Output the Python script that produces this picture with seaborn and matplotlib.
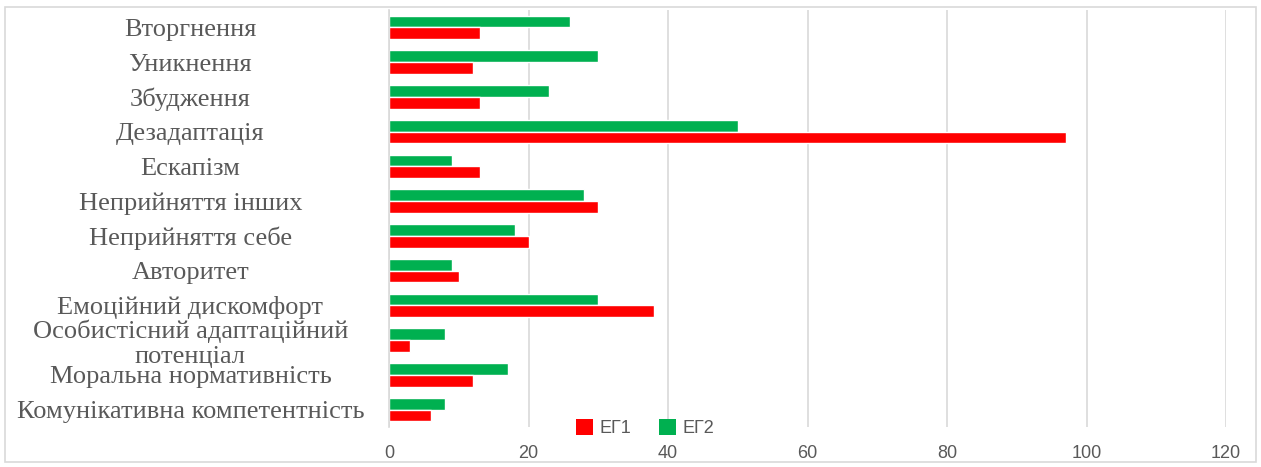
import matplotlib
matplotlib.use("Agg")
import matplotlib.pyplot as plt
import seaborn as sns
import pandas as pd
from matplotlib.patches import Patch, Rectangle

categories = [
    "Вторгнення",
    "Уникнення",
    "Збудження",
    "Дезадаптація",
    "Ескапізм",
    "Неприйняття інших",
    "Неприйняття себе",
    "Авторитет",
    "Емоційний дискомфорт",
    "Особистісний адаптаційний\nпотенціал",
    "Моральна нормативність",
    "Комунікативна компетентність",
]
eg1 = [13, 12, 13, 97, 13, 30, 20, 10, 38, 3, 12, 6]
eg2 = [26, 30, 23, 50, 9, 28, 18, 9, 30, 8, 17, 8]
series_names = ["ЕГ1", "ЕГ2"]
x_ticks = [0, 20, 40, 60, 80, 100, 120]

colors = {"ЕГ1": "#FF0000", "ЕГ2": "#00B050"}
text_gray = "#595959"

df = pd.DataFrame({
    "category": categories * 2,
    "value": eg1 + eg2,
    "group": ["ЕГ1"] * len(categories) + ["ЕГ2"] * len(categories),
})

sns.set_theme(style="white")
plt.rcParams["font.family"] = ["Liberation Sans", "DejaVu Sans"]

fig = plt.figure(figsize=(12.61, 4.67), dpi=100)
W, H = 1261, 467
ax = fig.add_axes([389 / W, 40 / H, (1226 - 389) / W, (427 - 10) / H])

sns.barplot(data=df, y="category", x="value", hue="group", orient="h",
            hue_order=["ЕГ2", "ЕГ1"], palette=colors, width=0.68,
            order=categories, ax=ax, legend=False, saturation=1)

ax.set_xlim(0, 120)
ax.set_ylim(len(categories) - 0.5, -0.5)
ax.set_xticks(x_ticks)
ax.set_xticklabels([str(t) for t in x_ticks], color=text_gray, fontsize=13)
ax.xaxis.grid(True, color="#D9D9D9", linewidth=1.2)
ax.set_axisbelow(True)
for s in ["top", "right", "bottom"]:
    ax.spines[s].set_visible(False)
ax.spines["left"].set_color("#D9D9D9")
ax.spines["left"].set_linewidth(1.2)
ax.set_xlabel("")
ax.set_ylabel("")
ax.tick_params(axis="x", length=0, pad=13)
ax.tick_params(axis="y", length=0, pad=143)
for lab in ax.get_yticklabels():
    lab.set_ha("center")
    lab.set_family(["Liberation Serif", "DejaVu Serif"])
    lab.set_fontsize(19)
    lab.set_color(text_gray)
    lab.set_linespacing(1.15)

handles = [Patch(facecolor=colors[n], edgecolor="none", label=n) for n in series_names]
leg = fig.legend(handles=handles, loc="center", bbox_to_anchor=(645 / W, 1 - 428 / H),
                 ncol=2, frameon=False, fontsize=13, handlelength=0.95,
                 handleheight=0.95, handletextpad=0.35, columnspacing=1.5)
for t in leg.get_texts():
    t.set_color(text_gray)

fig.patches.append(Rectangle((5 / W, 5 / H), 1 - 10 / W, 1 - 12 / H, transform=fig.transFigure,
                             fill=False, edgecolor="#D9D9D9", linewidth=1.2))

fig.savefig("out.png", dpi=100, facecolor="white")
